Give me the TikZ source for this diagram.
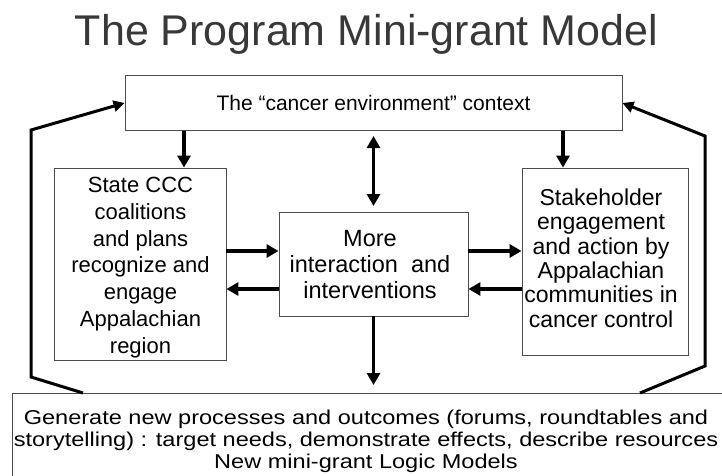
\documentclass[tikz,border=0pt]{standalone}
\usepackage{fontspec}
\setmainfont{Liberation Sans}
\usetikzlibrary{arrows.meta}
\begin{document}
\begin{tikzpicture}[x=1pt,y=-1pt,
  box/.style={draw=black!70, line width=0.9pt, inner sep=0pt},
  txt/.style={align=center, inner sep=0pt, anchor=north},
  arr/.style={line width=3.2pt, -{Triangle[length=12pt,width=13pt]}},
  darr/.style={line width=3.2pt, {Triangle[length=12pt,width=13pt]}-{Triangle[length=12pt,width=13pt]}},
  fb/.style={line width=3pt, -{Triangle[length=11pt,width=11pt]}}]
\clip (0,0) rectangle (722,475);
\node[font=\fontsize{43}{48}\selectfont, text=black!78, anchor=base, inner sep=0pt] (title) at (366.5,45) {The Program Mini-grant Model};
% boxes
\node[box, minimum width=497pt, minimum height=55pt] (top) at (373.5,103) {};
\node[box, minimum width=172pt, minimum height=192pt] (lb) at (140,264) {};
\node[box, minimum width=189pt, minimum height=104pt] (mid) at (373.5,264) {};
\node[box, minimum width=166pt, minimum height=187pt] (rb) at (605,261.5) {};
\node[box, minimum width=740pt, minimum height=100pt, anchor=north west] (bot) at (12,393) {};
% texts
\node[font=\fontsize{21}{25}\selectfont, anchor=base, inner sep=0pt] (toptxt) at (373.5,110) {The “cancer environment” context};
\node[txt, font=\fontsize{22}{26.8}\selectfont] (lbtxt) at (140.5,177) {State CCC\\coalitions\\and plans\\recognize and\\engage\\Appalachian\\region};
\node[txt, font=\fontsize{23.5}{26}\selectfont] (midtxt) at (370,230) {More\\interaction~ and\\interventions};
\node[txt, font=\fontsize{23}{24.4}\selectfont] (rbtxt) at (601,188.5) {Stakeholder\\engagement\\and action by\\Appalachian\\communities in\\cancer control};
\node[txt, font=\fontsize{20}{22}\selectfont] (bottxt) at (366,408.6) {\scalebox{1.177}[1]{\setlength\tabcolsep{0pt}\begin{tabular}{c}Generate new processes and outcomes (forums, roundtables and\\storytelling) : target needs, demonstrate effects, describe resources\\New mini-grant Logic Models\end{tabular}}};
% arrows
\coordinate (dtop) at (373.5,136);
\coordinate (dbot) at (373.5,206);
\coordinate (dend) at (373.5,385);
\draw[arr] (top.south -| 184,0) -- (lb.north -| 184,0);
\draw[arr] (top.south -| 563,0) -- (rb.north -| 563,0);
\draw[darr] (dtop) -- (dbot);
\draw[arr] (lb.east |- 0,251) -- (mid.west |- 0,251);
\draw[arr] (mid.west |- 0,289) -- (lb.east |- 0,289);
\draw[arr] (mid.east |- 0,251) -- (rb.west |- 0,251);
\draw[arr] (rb.west |- 0,289) -- (mid.east |- 0,289);
\draw[arr] (mid.south) -- (dend);
% feedback
\draw[fb] (bot.north -| 83,0) -- (31,377) -- (31,130) -- (top.west |- 0,103);
\draw[fb] (bot.north -| 640,0) -- (705,366) -- (705,136) -- (top.east |- 0,103);
\end{tikzpicture}
\end{document}
